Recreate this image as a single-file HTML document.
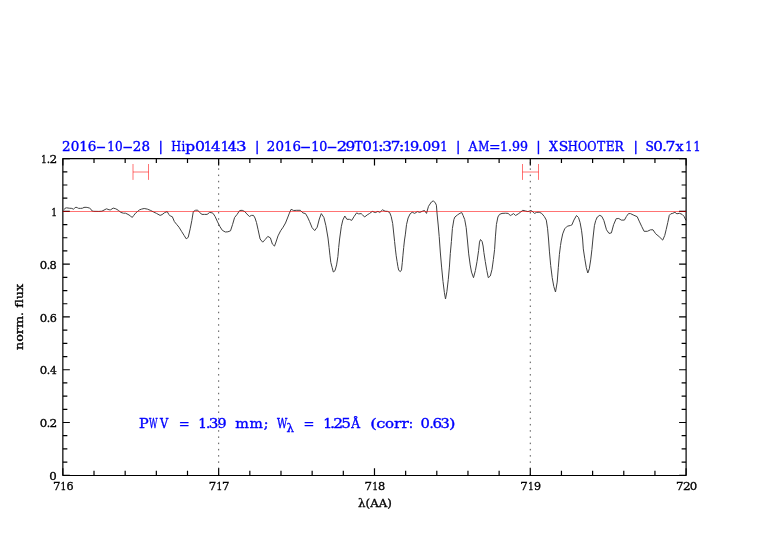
<!DOCTYPE html>
<html><head><meta charset="utf-8"><title>PWV spectrum plot</title>
<style>html,body{margin:0;padding:0;background:#fff}svg{display:block;will-change:transform}text{font-family:"DejaVu Serif",serif;font-weight:normal;font-size:100px}</style>
</head><body>
<svg width="782" height="542" viewBox="0 0 782 542">
<rect width="782" height="542" fill="#fff"/>
<line x1="218.66" y1="158.6" x2="218.66" y2="475.3" stroke="#555" stroke-width="1.0" stroke-dasharray="1.5 4.734" stroke-dashoffset="2.714"/>
<line x1="530.29" y1="158.6" x2="530.29" y2="475.3" stroke="#555" stroke-width="1.0" stroke-dasharray="1.5 4.734" stroke-dashoffset="2.714"/>
<polyline points="64.2,209.6 65.1,208.2 66.6,207.8 69.2,208.2 71.8,208.4 73.4,209.2 74.6,208.2 75.9,207.2 77.4,207.7 78.4,208.3 80.5,208.4 82.5,208.2 84.0,207.4 86.1,207.3 87.9,207.6 89.7,208.2 90.9,209.2 92.2,211.0 93.8,211.3 98.9,211.4 101.9,211.2 104.0,210.1 106.5,208.8 109.1,209.8 110.6,209.8 113.2,208.1 115.8,208.8 118.3,210.3 120.9,212.4 123.4,213.2 125.5,213.2 128.0,214.4 130.6,216.0 132.1,217.5 133.7,215.5 135.5,213.2 137.5,211.5 139.6,209.8 141.6,209.1 144.2,208.5 147.3,209.1 150.3,210.3 153.4,211.9 156.5,213.4 160.1,215.4 162.1,214.6 164.7,212.6 167.2,211.6 168.8,214.4 170.3,216.0 172.3,216.7 174.4,221.6 176.9,224.7 179.0,227.2 181.5,231.3 184.1,235.4 186.2,238.8 188.2,237.4 190.2,228.8 191.8,220.6 193.3,211.6 195.4,210.3 197.6,210.1 199.5,212.4 202.0,214.4 204.6,214.4 207.1,214.4 209.7,212.4 212.2,212.9 213.1,213.4 215.1,216.5 217.2,221.1 219.7,226.2 222.3,230.3 225.3,232.0 227.9,231.8 230.5,230.8 232.5,224.7 234.6,217.5 237.1,214.4 239.7,210.5 242.2,210.3 244.8,211.6 246.8,213.9 249.4,216.5 251.4,215.4 253.5,215.4 255.0,218.0 256.5,222.6 258.1,229.8 260.1,239.0 262.7,242.2 265.2,239.5 267.8,236.4 270.4,237.9 272.4,244.1 274.5,246.1 276.0,242.0 278.0,235.9 280.6,230.8 283.1,227.2 285.5,223.0 287.5,218.0 289.1,213.9 291.1,209.3 293.7,210.5 296.8,210.3 300.3,210.3 302.9,212.9 305.5,213.6 307.5,217.0 309.6,221.6 312.1,227.7 314.7,230.6 317.2,227.2 319.3,219.0 321.3,213.6 323.9,217.5 325.9,225.7 328.0,238.0 329.1,247.5 330.0,255.8 330.8,262.4 332.1,267.4 333.3,272.0 335.0,270.7 336.6,264.9 337.9,256.6 338.7,247.5 339.6,239.0 341.3,226.7 342.8,220.1 344.8,216.0 346.9,219.3 349.4,219.3 351.7,220.4 354.1,216.5 356.6,212.9 358.7,213.9 361.2,213.6 362.5,214.8 364.6,217.0 367.2,214.9 369.7,213.4 372.3,211.4 375.3,212.6 377.9,211.4 379.9,212.4 382.5,209.8 385.1,211.2 387.6,211.4 389.7,212.6 391.2,216.5 392.7,223.6 393.9,235.0 394.6,241.6 395.4,249.1 396.2,255.8 397.1,261.6 397.9,266.6 398.7,270.3 400.4,271.6 401.5,269.9 402.3,262.4 402.9,255.8 403.7,247.5 404.5,240.0 405.3,234.9 406.5,224.7 408.1,218.0 410.1,213.9 412.2,212.2 414.7,213.4 417.3,211.6 419.8,212.4 422.4,211.2 424.5,210.5 426.5,213.4 428.5,206.3 431.4,202.0 433.4,200.8 435.4,203.0 436.4,205.2 437.1,214.0 438.2,225.0 439.2,236.5 440.3,252.0 441.6,267.1 443.0,281.5 444.4,292.6 445.5,299.0 446.9,291.5 448.3,279.3 449.4,267.1 450.3,253.5 451.4,241.5 452.4,228.5 453.9,219.5 454.9,217.0 457.5,214.9 460.1,213.2 461.8,212.6 463.1,215.5 464.7,219.5 466.2,227.7 467.5,241.0 468.7,253.9 470.2,264.9 471.5,272.1 473.5,277.7 475.4,270.5 477.0,261.6 478.6,250.6 479.5,242.1 480.5,239.5 482.1,241.5 483.1,246.0 483.9,252.6 485.3,261.6 486.8,270.5 488.3,277.7 490.3,276.0 492.0,269.4 493.4,259.4 494.6,249.4 495.4,236.9 496.4,224.6 497.9,217.0 499.5,214.4 502.0,213.4 505.6,213.2 508.1,213.4 510.3,215.5 511.5,214.9 513.6,213.6 515.6,215.5 518.2,213.9 520.2,212.4 522.8,210.3 525.3,210.9 527.9,211.6 531.0,210.5 533.0,211.9 534.6,213.4 536.6,212.4 539.2,212.2 541.7,213.4 544.3,216.5 546.3,220.1 547.6,228.8 548.6,240.0 549.4,251.1 550.7,265.5 552.2,277.6 553.8,286.5 555.5,292.0 557.2,282.1 558.3,267.7 559.4,254.4 560.5,245.5 561.2,241.0 562.7,233.9 564.7,228.8 567.3,226.2 570.4,225.5 571.9,224.9 573.9,220.1 576.5,215.5 578.5,217.5 580.1,222.6 581.6,230.8 582.6,239.0 583.3,248.9 584.8,258.8 586.3,267.7 587.8,273.0 589.3,268.8 590.7,259.9 591.9,249.6 593.0,238.0 594.4,225.7 595.7,220.6 597.3,217.0 599.8,215.3 601.9,216.5 603.9,220.6 606.5,229.8 609.0,233.4 611.4,232.9 613.6,224.7 616.2,218.7 618.8,218.5 621.3,220.1 624.4,220.1 626.4,216.5 628.5,213.6 630.5,213.6 633.1,214.9 637.2,216.7 639.2,221.1 641.8,226.7 644.1,231.3 647.4,231.3 650.5,229.8 653.0,229.8 655.6,233.7 659.1,236.6 662.7,240.1 664.7,235.6 666.2,229.5 667.8,222.4 669.3,215.3 670.8,213.8 672.8,213.3 674.9,212.3 676.9,213.8 679.4,213.3 682.0,214.3 684.0,216.3 686.0,220.4" fill="none" stroke="#404040" stroke-width="1.0" stroke-linejoin="round"/>
<path d="M62.85 475.3v-7M62.85 158.6v7M94.01 475.3v-4.5M94.01 158.6v4.5M125.17 475.3v-4.5M125.17 158.6v4.5M156.34 475.3v-4.5M156.34 158.6v4.5M187.50 475.3v-4.5M187.50 158.6v4.5M218.66 475.3v-7M218.66 158.6v7M249.83 475.3v-4.5M249.83 158.6v4.5M280.99 475.3v-4.5M280.99 158.6v4.5M312.15 475.3v-4.5M312.15 158.6v4.5M343.31 475.3v-4.5M343.31 158.6v4.5M374.48 475.3v-7M374.48 158.6v7M405.64 475.3v-4.5M405.64 158.6v4.5M436.80 475.3v-4.5M436.80 158.6v4.5M467.96 475.3v-4.5M467.96 158.6v4.5M499.12 475.3v-4.5M499.12 158.6v4.5M530.29 475.3v-7M530.29 158.6v7M561.45 475.3v-4.5M561.45 158.6v4.5M592.61 475.3v-4.5M592.61 158.6v4.5M623.78 475.3v-4.5M623.78 158.6v4.5M654.94 475.3v-4.5M654.94 158.6v4.5M686.10 475.3v-7M686.10 158.6v7M62.85 475.30h7M686.1 475.30h-7M62.85 462.10h4.5M686.1 462.10h-4.5M62.85 448.91h4.5M686.1 448.91h-4.5M62.85 435.71h4.5M686.1 435.71h-4.5M62.85 422.52h7M686.1 422.52h-7M62.85 409.32h4.5M686.1 409.32h-4.5M62.85 396.12h4.5M686.1 396.12h-4.5M62.85 382.93h4.5M686.1 382.93h-4.5M62.85 369.73h7M686.1 369.73h-7M62.85 356.54h4.5M686.1 356.54h-4.5M62.85 343.34h4.5M686.1 343.34h-4.5M62.85 330.15h4.5M686.1 330.15h-4.5M62.85 316.95h7M686.1 316.95h-7M62.85 303.75h4.5M686.1 303.75h-4.5M62.85 290.56h4.5M686.1 290.56h-4.5M62.85 277.36h4.5M686.1 277.36h-4.5M62.85 264.17h7M686.1 264.17h-7M62.85 250.97h4.5M686.1 250.97h-4.5M62.85 237.77h4.5M686.1 237.77h-4.5M62.85 224.58h4.5M686.1 224.58h-4.5M62.85 211.38h7M686.1 211.38h-7M62.85 198.19h4.5M686.1 198.19h-4.5M62.85 184.99h4.5M686.1 184.99h-4.5M62.85 171.80h4.5M686.1 171.80h-4.5M62.85 158.60h7M686.1 158.60h-7" stroke="#000" stroke-width="1.2" fill="none"/>
<rect x="62.85" y="158.6" width="623.25" height="316.90" fill="none" stroke="#000" stroke-width="1.2" stroke-linejoin="round"/>
<line x1="62.85" y1="211.5" x2="686.1" y2="211.5" stroke="#ff0000" stroke-opacity="0.55" stroke-width="1.0"/>
<path d="M133.0 164.0V179.9M148.5 164.0V179.9M133.0 172.0H148.5" stroke="#ff0000" stroke-opacity="0.55" stroke-width="1.0" fill="none"/>
<path d="M522.5 164.0V179.9M538.5 164.0V179.9M522.5 172.0H538.5" stroke="#ff0000" stroke-opacity="0.55" stroke-width="1.0" fill="none"/>
<text transform="translate(0 151.17) scale(0.13067 0.13067)" fill="#0000ff" stroke="#0000ff" stroke-width="2.8"><tspan x="474.90" y="0" textLength="263.47" lengthAdjust="spacingAndGlyphs">2016</tspan><tspan x="735.58" y="0" textLength="76.60" lengthAdjust="spacingAndGlyphs">-</tspan><tspan x="821.62" y="0" textLength="117.04" lengthAdjust="spacingAndGlyphs">10</tspan><tspan x="938.03" y="0" textLength="79.58" lengthAdjust="spacingAndGlyphs">-</tspan><tspan x="1016.77" y="0" textLength="131.00" lengthAdjust="spacingAndGlyphs">28</tspan></text>
<text transform="translate(0 151.17) scale(0.13067 0.13067)" fill="#0000ff" stroke="#0000ff" stroke-width="2.8"><tspan x="1310.47" y="0" textLength="75.42" lengthAdjust="spacingAndGlyphs">H</tspan><tspan x="1388.61" y="0" textLength="29.01" lengthAdjust="spacingAndGlyphs">i</tspan><tspan x="1418.41" y="0" textLength="75.24" lengthAdjust="spacingAndGlyphs">p</tspan><tspan x="1492.03" y="0" textLength="76.38" lengthAdjust="spacingAndGlyphs">0</tspan><tspan x="1559.85" y="0" textLength="64.07" lengthAdjust="spacingAndGlyphs">1</tspan><tspan x="1614.37" y="0" textLength="73.91" lengthAdjust="spacingAndGlyphs">4</tspan><tspan x="1689.19" y="0" textLength="64.07" lengthAdjust="spacingAndGlyphs">1</tspan><tspan x="1743.91" y="0" textLength="69.56" lengthAdjust="spacingAndGlyphs">4</tspan><tspan x="1805.87" y="0" textLength="81.15" lengthAdjust="spacingAndGlyphs">3</tspan></text>
<text transform="translate(0 151.17) scale(0.13067 0.13067)" fill="#0000ff" stroke="#0000ff" stroke-width="2.8"><tspan x="2042.31" y="0" textLength="261.04" lengthAdjust="spacingAndGlyphs">2016</tspan><tspan x="2297.74" y="0" textLength="81.57" lengthAdjust="spacingAndGlyphs">-</tspan><tspan x="2382.25" y="0" textLength="123.30" lengthAdjust="spacingAndGlyphs">10</tspan><tspan x="2499.78" y="0" textLength="81.57" lengthAdjust="spacingAndGlyphs">-</tspan><tspan x="2577.19" y="0" textLength="79.77" lengthAdjust="spacingAndGlyphs">2</tspan><tspan x="2644.00" y="0" textLength="74.47" lengthAdjust="spacingAndGlyphs">9</tspan><tspan x="2712.09" y="0" textLength="61.26" lengthAdjust="spacingAndGlyphs">T</tspan><tspan x="2774.37" y="0" textLength="71.61" lengthAdjust="spacingAndGlyphs">0</tspan><tspan x="2847.78" y="0" textLength="56.38" lengthAdjust="spacingAndGlyphs">1</tspan><tspan x="2893.68" y="0" textLength="43.65" lengthAdjust="spacingAndGlyphs">:</tspan><tspan x="2925.51" y="0" textLength="75.07" lengthAdjust="spacingAndGlyphs">3</tspan><tspan x="2989.99" y="0" textLength="73.54" lengthAdjust="spacingAndGlyphs">7</tspan><tspan x="3051.33" y="0" textLength="43.65" lengthAdjust="spacingAndGlyphs">:</tspan><tspan x="3087.08" y="0" textLength="57.66" lengthAdjust="spacingAndGlyphs">1</tspan><tspan x="3137.21" y="0" textLength="70.65" lengthAdjust="spacingAndGlyphs">9</tspan><tspan x="3197.27" y="0" textLength="41.18" lengthAdjust="spacingAndGlyphs">.</tspan><tspan x="3234.00" y="0" textLength="66.83" lengthAdjust="spacingAndGlyphs">0</tspan><tspan x="3298.69" y="0" textLength="70.65" lengthAdjust="spacingAndGlyphs">9</tspan><tspan x="3368.96" y="0" textLength="56.38" lengthAdjust="spacingAndGlyphs">1</tspan></text>
<text transform="translate(0 151.17) scale(0.13067 0.13067)" fill="#0000ff" stroke="#0000ff" stroke-width="2.8"><tspan x="3584.88" y="0" textLength="68.71" lengthAdjust="spacingAndGlyphs">A</tspan><tspan x="3659.36" y="0" textLength="85.19" lengthAdjust="spacingAndGlyphs">M</tspan><tspan x="3742.49" y="0" textLength="88.56" lengthAdjust="spacingAndGlyphs">=</tspan><tspan x="3827.21" y="0" textLength="214.67" lengthAdjust="spacingAndGlyphs">1.99</tspan></text>
<text transform="translate(0 151.17) scale(0.13067 0.13067)" fill="#0000ff" stroke="#0000ff" stroke-width="2.8"><tspan x="4202.30" y="0" textLength="68.31" lengthAdjust="spacingAndGlyphs">X</tspan><tspan x="4275.64" y="0" textLength="73.21" lengthAdjust="spacingAndGlyphs">S</tspan><tspan x="4344.81" y="0" textLength="77.15" lengthAdjust="spacingAndGlyphs">H</tspan><tspan x="4422.95" y="0" textLength="69.81" lengthAdjust="spacingAndGlyphs">O</tspan><tspan x="4493.30" y="0" textLength="70.70" lengthAdjust="spacingAndGlyphs">O</tspan><tspan x="4568.70" y="0" textLength="62.83" lengthAdjust="spacingAndGlyphs">T</tspan><tspan x="4636.16" y="0" textLength="67.97" lengthAdjust="spacingAndGlyphs">E</tspan><tspan x="4701.92" y="0" textLength="71.04" lengthAdjust="spacingAndGlyphs">R</tspan></text>
<text transform="translate(0 151.17) scale(0.13067 0.13067)" fill="#0000ff" stroke="#0000ff" stroke-width="2.8"><tspan x="4940.20" y="0" textLength="64.31" lengthAdjust="spacingAndGlyphs">S</tspan><tspan x="4998.93" y="0" textLength="73.52" lengthAdjust="spacingAndGlyphs">0</tspan><tspan x="5065.68" y="0" textLength="37.44" lengthAdjust="spacingAndGlyphs">.</tspan><tspan x="5093.44" y="0" textLength="76.52" lengthAdjust="spacingAndGlyphs">7</tspan><tspan x="5169.32" y="0" textLength="61.55" lengthAdjust="spacingAndGlyphs">x</tspan><tspan x="5244.97" y="0" textLength="55.10" lengthAdjust="spacingAndGlyphs">1</tspan><tspan x="5307.20" y="0" textLength="53.82" lengthAdjust="spacingAndGlyphs">1</tspan></text>
<text transform="translate(0 151.17) scale(0.13067 0.13067)" fill="#0000ff" stroke="#0000ff" stroke-width="2.8"><tspan x="1213.61" y="0" textLength="33.70" lengthAdjust="spacingAndGlyphs">|</tspan></text>
<text transform="translate(0 151.17) scale(0.13067 0.13067)" fill="#0000ff" stroke="#0000ff" stroke-width="2.8"><tspan x="1950.60" y="0" textLength="33.70" lengthAdjust="spacingAndGlyphs">|</tspan></text>
<text transform="translate(0 151.17) scale(0.13067 0.13067)" fill="#0000ff" stroke="#0000ff" stroke-width="2.8"><tspan x="3488.87" y="0" textLength="33.70" lengthAdjust="spacingAndGlyphs">|</tspan></text>
<text transform="translate(0 151.17) scale(0.13067 0.13067)" fill="#0000ff" stroke="#0000ff" stroke-width="2.8"><tspan x="4103.79" y="0" textLength="33.70" lengthAdjust="spacingAndGlyphs">|</tspan></text>
<text transform="translate(0 151.17) scale(0.13067 0.13067)" fill="#0000ff" stroke="#0000ff" stroke-width="2.8"><tspan x="4848.43" y="0" textLength="33.70" lengthAdjust="spacingAndGlyphs">|</tspan></text>
<text transform="translate(0 427.76) scale(0.13733 0.13733)" fill="#0000ff" stroke="#0000ff" stroke-width="2.8"><tspan x="1011.99" y="0" textLength="70.60" lengthAdjust="spacingAndGlyphs">P</tspan><tspan x="1085.68" y="0" textLength="61.77" lengthAdjust="spacingAndGlyphs">W</tspan><tspan x="1165.87" y="0" textLength="59.60" lengthAdjust="spacingAndGlyphs">V</tspan> <tspan x="1301.20" y="0" textLength="79.42" lengthAdjust="spacingAndGlyphs">=</tspan> <tspan x="1443.13" y="0" textLength="62.18" lengthAdjust="spacingAndGlyphs">1</tspan><tspan x="1499.66" y="0" textLength="32.06" lengthAdjust="spacingAndGlyphs">.</tspan><tspan x="1520.27" y="0" textLength="70.46" lengthAdjust="spacingAndGlyphs">3</tspan><tspan x="1583.31" y="0" textLength="66.31" lengthAdjust="spacingAndGlyphs">9</tspan> <tspan x="1713.85" y="0" textLength="99.31" lengthAdjust="spacingAndGlyphs">m</tspan><tspan x="1817.32" y="0" textLength="96.98" lengthAdjust="spacingAndGlyphs">m</tspan><tspan x="1920.44" y="0" textLength="34.36" lengthAdjust="spacingAndGlyphs">;</tspan> <tspan x="2016.99" y="0" textLength="74.85" lengthAdjust="spacingAndGlyphs">W</tspan><tspan x="2087.06" y="30.25" font-size="85.0" textLength="55.07" lengthAdjust="spacingAndGlyphs">λ</tspan> <tspan x="2210.67" y="0" textLength="79.42" lengthAdjust="spacingAndGlyphs">=</tspan> <tspan x="2354.32" y="0" textLength="64.62" lengthAdjust="spacingAndGlyphs">1</tspan><tspan x="2403.25" y="0" textLength="37.40" lengthAdjust="spacingAndGlyphs">.</tspan><tspan x="2427.03" y="0" textLength="71.96" lengthAdjust="spacingAndGlyphs">2</tspan><tspan x="2485.80" y="0" textLength="70.46" lengthAdjust="spacingAndGlyphs">5</tspan><tspan x="2557.44" y="0" textLength="63.96" lengthAdjust="spacingAndGlyphs">Å</tspan> <tspan x="2695.39" y="0" textLength="47.35" lengthAdjust="spacingAndGlyphs">(</tspan><tspan x="2740.67" y="0" textLength="66.50" lengthAdjust="spacingAndGlyphs">c</tspan><tspan x="2803.76" y="0" textLength="65.77" lengthAdjust="spacingAndGlyphs">o</tspan><tspan x="2869.22" y="0" textLength="53.38" lengthAdjust="spacingAndGlyphs">r</tspan><tspan x="2923.83" y="0" textLength="53.38" lengthAdjust="spacingAndGlyphs">r</tspan><tspan x="2975.91" y="0" textLength="32.09" lengthAdjust="spacingAndGlyphs">:</tspan> <tspan x="3062.75" y="0" textLength="68.13" lengthAdjust="spacingAndGlyphs">0</tspan><tspan x="3127.60" y="0" textLength="30.28" lengthAdjust="spacingAndGlyphs">.</tspan><tspan x="3149.64" y="0" textLength="69.49" lengthAdjust="spacingAndGlyphs">6</tspan><tspan x="3207.04" y="0" textLength="67.56" lengthAdjust="spacingAndGlyphs">3</tspan><tspan x="3270.39" y="0" textLength="47.35" lengthAdjust="spacingAndGlyphs">)</tspan></text>
<text transform="translate(0 163.24) scale(0.11467 0.11467)" fill="#000" stroke="#000" stroke-width="2.8"><tspan x="358.38" y="0" textLength="51.11" lengthAdjust="spacingAndGlyphs">1</tspan><tspan x="407.54" y="0" textLength="29.86" lengthAdjust="spacingAndGlyphs">.</tspan><tspan x="432.13" y="0" textLength="67.29" lengthAdjust="spacingAndGlyphs">2</tspan></text>
<text transform="translate(0 216.02) scale(0.11467 0.11467)" fill="#000" stroke="#000" stroke-width="2.8"><tspan x="446.03" y="0" textLength="51.11" lengthAdjust="spacingAndGlyphs">1</tspan></text>
<text transform="translate(0 268.80) scale(0.11467 0.11467)" fill="#000" stroke="#000" stroke-width="2.8"><tspan x="347.04" y="0" textLength="65.28" lengthAdjust="spacingAndGlyphs">0</tspan><tspan x="407.54" y="0" textLength="29.86" lengthAdjust="spacingAndGlyphs">.</tspan><tspan x="432.58" y="0" textLength="63.26" lengthAdjust="spacingAndGlyphs">8</tspan></text>
<text transform="translate(0 321.59) scale(0.11467 0.11467)" fill="#000" stroke="#000" stroke-width="2.8"><tspan x="347.04" y="0" textLength="65.28" lengthAdjust="spacingAndGlyphs">0</tspan><tspan x="407.54" y="0" textLength="29.86" lengthAdjust="spacingAndGlyphs">.</tspan><tspan x="433.13" y="0" textLength="62.15" lengthAdjust="spacingAndGlyphs">6</tspan></text>
<text transform="translate(0 374.37) scale(0.11467 0.11467)" fill="#000" stroke="#000" stroke-width="2.8"><tspan x="347.04" y="0" textLength="65.28" lengthAdjust="spacingAndGlyphs">0</tspan><tspan x="407.54" y="0" textLength="29.86" lengthAdjust="spacingAndGlyphs">.</tspan><tspan x="435.42" y="0" textLength="59.45" lengthAdjust="spacingAndGlyphs">4</tspan></text>
<text transform="translate(0 427.15) scale(0.11467 0.11467)" fill="#000" stroke="#000" stroke-width="2.8"><tspan x="347.04" y="0" textLength="65.28" lengthAdjust="spacingAndGlyphs">0</tspan><tspan x="407.54" y="0" textLength="29.86" lengthAdjust="spacingAndGlyphs">.</tspan><tspan x="432.13" y="0" textLength="67.29" lengthAdjust="spacingAndGlyphs">2</tspan></text>
<text transform="translate(0 479.94) scale(0.11467 0.11467)" fill="#000" stroke="#000" stroke-width="2.8"><tspan x="429.45" y="0" textLength="65.28" lengthAdjust="spacingAndGlyphs">0</tspan></text>
<text transform="translate(0 490.39) scale(0.11333 0.11333)" fill="#000" stroke="#000" stroke-width="2.8"><tspan x="466.79" y="0" textLength="66.45" lengthAdjust="spacingAndGlyphs">7</tspan><tspan x="534.66" y="0" textLength="51.71" lengthAdjust="spacingAndGlyphs">1</tspan><tspan x="587.35" y="0" textLength="62.88" lengthAdjust="spacingAndGlyphs">6</tspan></text>
<text transform="translate(0 490.39) scale(0.11333 0.11333)" fill="#000" stroke="#000" stroke-width="2.8"><tspan x="1841.61" y="0" textLength="66.45" lengthAdjust="spacingAndGlyphs">7</tspan><tspan x="1909.48" y="0" textLength="51.71" lengthAdjust="spacingAndGlyphs">1</tspan><tspan x="1959.84" y="0" textLength="66.45" lengthAdjust="spacingAndGlyphs">7</tspan></text>
<text transform="translate(0 490.39) scale(0.11333 0.11333)" fill="#000" stroke="#000" stroke-width="2.8"><tspan x="3216.42" y="0" textLength="66.45" lengthAdjust="spacingAndGlyphs">7</tspan><tspan x="3284.29" y="0" textLength="51.71" lengthAdjust="spacingAndGlyphs">1</tspan><tspan x="3336.41" y="0" textLength="64.00" lengthAdjust="spacingAndGlyphs">8</tspan></text>
<text transform="translate(0 490.39) scale(0.11333 0.11333)" fill="#000" stroke="#000" stroke-width="2.8"><tspan x="4591.24" y="0" textLength="66.45" lengthAdjust="spacingAndGlyphs">7</tspan><tspan x="4659.11" y="0" textLength="51.71" lengthAdjust="spacingAndGlyphs">1</tspan><tspan x="4712.36" y="0" textLength="62.74" lengthAdjust="spacingAndGlyphs">9</tspan></text>
<text transform="translate(0 490.39) scale(0.11333 0.11333)" fill="#000" stroke="#000" stroke-width="2.8"><tspan x="5966.06" y="0" textLength="66.45" lengthAdjust="spacingAndGlyphs">7</tspan><tspan x="6026.48" y="0" textLength="68.08" lengthAdjust="spacingAndGlyphs">2</tspan><tspan x="6085.54" y="0" textLength="66.05" lengthAdjust="spacingAndGlyphs">0</tspan></text>
<text transform="translate(0 507.09) scale(0.10933 0.10933)" fill="#000" stroke="#000" stroke-width="2.8"><tspan x="3275.57" y="0" textLength="308.20" lengthAdjust="spacingAndGlyphs">λ(AA)</tspan></text>
<text transform="translate(23.30 350.08) rotate(-90) scale(0.12802 0.11867)" fill="#000" stroke="#000" stroke-width="2.8">norm. flux</text>
</svg>
</body></html>
